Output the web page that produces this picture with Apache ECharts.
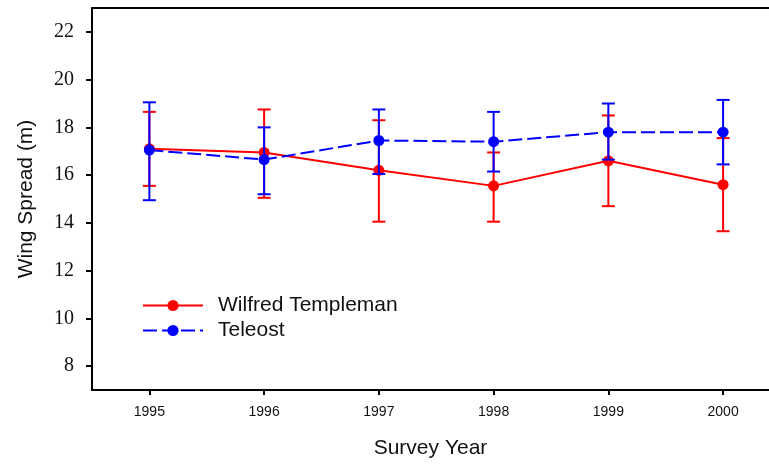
<!DOCTYPE html>
<html>
<head>
<meta charset="utf-8">
<script src="https://cdn.jsdelivr.net/npm/echarts@6/dist/echarts.min.js"></script>
<style>
html,body{margin:0;padding:0;background:#fff;}
#chart{width:769px;height:466px;}
</style>
</head>
<body>
<div id="chart"></div>
<script>
const years = [1995, 1996, 1997, 1998, 1999, 2000];
const yTicks = [8,10,12,14,16,18,20,22];
const wtMean = [17.1, 16.95, 16.2, 15.55, 16.6, 15.6];
const wtHigh = [18.65, 18.75, 18.3, 16.95, 18.5, 17.55];
const wtLow  = [15.55, 15.05, 14.05, 14.05, 14.7, 13.65];
const telMean = [17.05, 16.65, 17.45, 17.4, 17.8, 17.8];
const telHigh = [19.05, 18.0, 18.75, 18.65, 19.0, 19.15];
const telLow  = [14.95, 15.2, 16.05, 16.15, 16.65, 16.45];

const RED = '#ff0000', BLUE = '#0000ff';
const sans = "'Liberation Sans', Arial, sans-serif";
const serif = "'Liberation Serif', 'Times New Roman', serif";

function pts(vals){ return vals.map((v,i)=>[years[i], v]); }
function errData(low, high){ return low.map((l,i)=>[years[i],l,high[i]]); }
function errRender(color){
  return function(params, api){
    const x = api.value(0);
    const lo = api.coord([x, api.value(1)]);
    const hi = api.coord([x, api.value(2)]);
    const hw = 6.5;
    const st = {stroke: color, lineWidth: 2};
    return {type:'group', children:[
      {type:'line', shape:{x1:lo[0],y1:lo[1],x2:hi[0],y2:hi[1]}, style:st},
      {type:'line', shape:{x1:lo[0]-hw,y1:lo[1],x2:lo[0]+hw,y2:lo[1]}, style:st},
      {type:'line', shape:{x1:hi[0]-hw,y1:hi[1],x2:hi[0]+hw,y2:hi[1]}, style:st}
    ]};
  };
}

const chart = echarts.init(document.getElementById('chart'));
chart.setOption({
  animation:false,
  backgroundColor:'#fff',
  grid:{left:92, top:8, right:0, bottom:76, containLabel:false},
  legend:{
    orient:'vertical', left:137, top:290, itemWidth:60, itemHeight:14, itemGap:4,
    data:['Wilfred Templeman','Teleost'],
    textStyle:{fontFamily:sans, fontSize:21, color:'#111', padding:[0,0,0,10]}
  },
  xAxis:[{
    type:'value', min:1994.5, max:2000.4, position:'bottom',
    axisLine:{lineStyle:{color:'#000', width:2}},
    axisTick:{show:true, length:5, customValues:years, lineStyle:{color:'#000', width:2}},
    axisLabel:{fontFamily:sans, fontSize:14, color:'#111', margin:15, customValues:years,
               formatter:function(v){return String(Math.round(v));}},
    splitLine:{show:false},
    name:'Survey Year', nameLocation:'middle', nameGap:48,
    nameTextStyle:{fontFamily:sans, fontSize:21, color:'#111'}
  },{
    type:'value', min:1994.5, max:2000.4, position:'top',
    axisLine:{show:true, onZero:false, lineStyle:{color:'#000', width:2}},
    axisTick:{show:false}, axisLabel:{show:false}, splitLine:{show:false}
  }],
  yAxis:{
    type:'value', min:7, max:23,
    axisLine:{show:true, onZero:false, lineStyle:{color:'#000', width:2}},
    axisTick:{show:true, length:6, customValues:yTicks, lineStyle:{color:'#000', width:2}},
    axisLabel:{fontFamily:serif, fontSize:20, color:'#111', margin:18, customValues:yTicks},
    splitLine:{show:false},
    name:'Wing Spread (m)', nameLocation:'middle', nameGap:55, nameRotate:90,
    nameTextStyle:{fontFamily:sans, fontSize:21, color:'#111'}
  },
  series:[
    {type:'custom', name:'wtErr', data:errData(wtLow, wtHigh), renderItem:errRender(RED), z:1, silent:true},
    {type:'line', name:'Wilfred Templeman', data:pts(wtMean), symbol:'circle', symbolSize:11,
     itemStyle:{color:RED}, lineStyle:{color:RED, width:2}, z:2},
    {type:'custom', name:'telErr', data:errData(telLow, telHigh), renderItem:errRender(BLUE), z:3, silent:true},
    {type:'line', name:'Teleost', data:pts(telMean), symbol:'circle', symbolSize:11,
     itemStyle:{color:BLUE}, lineStyle:{color:BLUE, width:2, type:[14,5]}, z:4}
  ]
});
</script>
</body>
</html>
